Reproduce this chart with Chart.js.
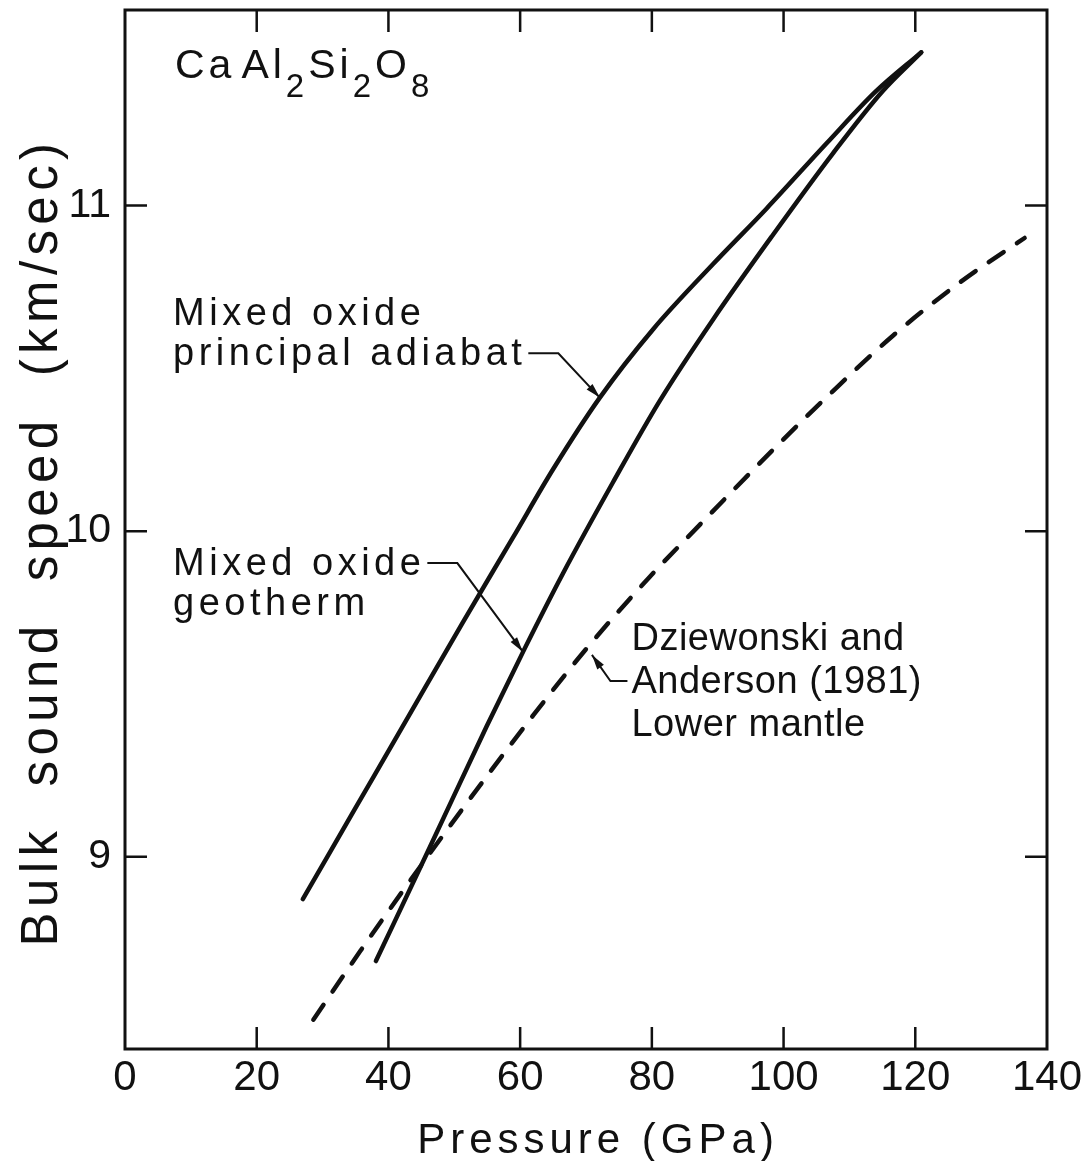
<!DOCTYPE html>
<html>
<head>
<meta charset="utf-8">
<script src="https://cdn.jsdelivr.net/npm/chart.js@4.4.1/dist/chart.umd.min.js"></script>
<style>
  html, body { margin: 0; padding: 0; background: #fff; }
  #wrap { width: 1083px; height: 1161px; }
</style>
</head>
<body>
<div id="wrap"><canvas id="sound" width="1083" height="1161"></canvas></div>
<script>
// Bulk sound speed (km/sec) vs pressure (GPa), CaAl2Si2O8

// mixed oxide principal adiabat
const adiabatP = [27.0, 35.0, 43.0, 51.3, 58.9, 65.0, 72.1, 80.2, 89.3, 97.4, 106.5, 114.0, 120.9];
const adiabatV = [8.87, 9.15, 9.43, 9.72, 9.98, 10.19, 10.41, 10.62, 10.82, 10.99, 11.19, 11.35, 11.47];

// mixed oxide geotherm
const geothermP = [38.1, 46.3, 54.9, 60.7, 66.5, 74.1, 81.2, 89.3, 98.4, 107.5, 115.0, 120.9];
const geothermV = [8.68, 9.03, 9.40, 9.64, 9.87, 10.15, 10.40, 10.65, 10.91, 11.16, 11.35, 11.47];

// Dziewonski and Anderson (1981), lower mantle
const mantleP = [28.6, 35.7, 42.7, 48.8, 55.4, 62.0, 70.1, 79.7, 87.3, 98.9, 107.5, 116.6, 127.2, 136.6];
const mantleV = [8.50, 8.71, 8.91, 9.08, 9.26, 9.435, 9.64, 9.86, 10.02, 10.26, 10.43, 10.60, 10.77, 10.90];

const xTicks = [0, 20, 40, 60, 80, 100, 120, 140];
const yTicks = [9, 10, 11];

const FONT = '"Liberation Sans", Arial, sans-serif';
const INK = '#111';

const pts = (xs, ys) => xs.map((x, i) => ({ x, y: ys[i] }));

// curve labels; text anchor and arrow tip in data units
const notes = [
  { lines: ['Mixed oxide', 'principal adiabat'], at: { x: 7.3, y: 10.632 }, gap: 40, spacing: 4.5, from: 1, side: 'right', tip: { x: 72.1, y: 10.41 } },
  { lines: ['Mixed oxide', 'geotherm'], at: { x: 7.3, y: 9.865 }, gap: 40, spacing: 4.5, from: 0, side: 'right', tip: { x: 60.4, y: 9.63 } },
  { lines: ['Dziewonski and', 'Anderson (1981)', 'Lower mantle'], at: { x: 76.9, y: 9.635 }, gap: 43, spacing: 0.5, from: 1, side: 'left', tip: { x: 70.9, y: 9.62 } }
];

function arrowHead(ctx, fx, fy, tx, ty) {
  const a = Math.atan2(ty - fy, tx - fx);
  const len = 15, hw = 4;
  ctx.beginPath();
  ctx.moveTo(tx, ty);
  ctx.lineTo(tx - len * Math.cos(a) + hw * Math.sin(a), ty - len * Math.sin(a) - hw * Math.cos(a));
  ctx.lineTo(tx - len * Math.cos(a) - hw * Math.sin(a), ty - len * Math.sin(a) + hw * Math.cos(a));
  ctx.closePath();
  ctx.fill();
}

// box frame with inward ticks on all four sides
const frameTicks = {
  id: 'frameTicks',
  afterDatasetsDraw(chart) {
    const { ctx, chartArea: a, scales: { x, y } } = chart;
    const tl = 22;
    ctx.save();
    ctx.strokeStyle = INK;
    ctx.lineWidth = 3;
    ctx.strokeRect(a.left, a.top, a.right - a.left, a.bottom - a.top);
    ctx.lineWidth = 2.5;
    ctx.beginPath();
    xTicks.slice(1, -1).forEach(v => {
      const px = x.getPixelForValue(v);
      ctx.moveTo(px, a.bottom); ctx.lineTo(px, a.bottom - tl);
      ctx.moveTo(px, a.top); ctx.lineTo(px, a.top + tl);
    });
    yTicks.forEach(v => {
      const py = y.getPixelForValue(v);
      ctx.moveTo(a.left, py); ctx.lineTo(a.left + tl, py);
      ctx.moveTo(a.right, py); ctx.lineTo(a.right - tl, py);
    });
    ctx.stroke();
    ctx.restore();
  }
};

// formula, axis titles and curve labels
const textLayer = {
  id: 'textLayer',
  afterDraw(chart) {
    const { ctx, chartArea: a, scales: { x, y } } = chart;
    ctx.save();
    ctx.fillStyle = INK;
    ctx.strokeStyle = INK;
    ctx.textBaseline = 'alphabetic';

    // CaAl2Si2O8 with subscripts
    const parts = [['Ca', 0], ['Al', 0], ['2', 1], ['Si', 0], ['2', 1], ['O', 0], ['8', 1]];
    let cx = a.left + 50;
    const base = a.top + 68;
    ctx.letterSpacing = '4px';
    parts.forEach(([t, sub]) => {
      ctx.font = sub ? `33px ${FONT}` : `41px ${FONT}`;
      ctx.fillText(t, cx, base + (sub ? 19 : 0));
      cx += ctx.measureText(t).width + (t === 'Ca' ? 6 : 0);
    });

    // x axis title
    ctx.font = `42px ${FONT}`;
    ctx.letterSpacing = '5px';
    ctx.textAlign = 'center';
    ctx.fillText('Pressure (GPa)', (a.left + a.right) / 2 + 12, 1153);

    // y axis title
    ctx.save();
    ctx.font = `51px ${FONT}`;
    ctx.letterSpacing = '5.4px';
    ctx.translate(57, 542);
    ctx.rotate(-Math.PI / 2);
    ctx.fillText('Bulk  sound  speed  (km/sec)', 0, 0);
    ctx.restore();

    // curve labels with leaders
    ctx.textAlign = 'left';
    ctx.font = `38px ${FONT}`;
    notes.forEach(n => {
      ctx.letterSpacing = n.spacing + 'px';
      const px = x.getPixelForValue(n.at.x);
      const py = y.getPixelForValue(n.at.y);
      n.lines.forEach((t, i) => ctx.fillText(t, px, py + i * n.gap));
      const ly = py + n.from * n.gap - 12;
      let sx, bx;
      if (n.side === 'right') {
        sx = px + ctx.measureText(n.lines[n.from]).width + 2;
        bx = sx + 30;
      } else {
        sx = px - 4;
        bx = sx - 17;
      }
      const tx = x.getPixelForValue(n.tip.x);
      const ty = y.getPixelForValue(n.tip.y);
      ctx.lineWidth = 2;
      ctx.beginPath();
      ctx.moveTo(sx, ly);
      ctx.lineTo(bx, ly);
      ctx.lineTo(tx, ty);
      ctx.stroke();
      arrowHead(ctx, bx, ly, tx, ty);
    });
    ctx.restore();
  }
};

const lineStyle = {
  borderColor: INK,
  borderWidth: 4.5,
  pointRadius: 0,
  fill: false,
  cubicInterpolationMode: 'monotone',
  borderCapStyle: 'round'
};

new Chart(document.getElementById('sound'), {
  type: 'line',
  data: {
    datasets: [
      { label: 'Mixed oxide principal adiabat', data: pts(adiabatP, adiabatV), ...lineStyle },
      { label: 'Mixed oxide geotherm', data: pts(geothermP, geothermV), ...lineStyle },
      { label: 'Dziewonski and Anderson (1981) Lower mantle', data: pts(mantleP, mantleV), ...lineStyle, borderDash: [18, 16] }
    ]
  },
  options: {
    responsive: false,
    animation: false,
    layout: { padding: { top: 10, right: 36, left: 0, bottom: 0 } },
    plugins: { legend: { display: false }, tooltip: { enabled: false } },
    scales: {
      x: {
        type: 'linear',
        min: 0, max: 140,
        afterBuildTicks: s => { s.ticks = xTicks.map(v => ({ value: v })); },
        afterFit: s => { s.height = 112; s.paddingLeft = 0; s.paddingRight = 0; },
        grid: { display: false, drawTicks: false },
        border: { display: false },
        ticks: { color: INK, padding: 4, maxRotation: 0, font: { family: FONT, size: 42 } }
      },
      y: {
        type: 'linear',
        min: 8.41, max: 11.6,
        afterBuildTicks: s => { s.ticks = yTicks.map(v => ({ value: v })); },
        afterFit: s => { s.width = 125; s.paddingTop = 0; s.paddingBottom = 0; },
        grid: { display: false, drawTicks: false },
        border: { display: false },
        ticks: { color: INK, padding: 14, font: { family: FONT, size: 41 } }
      }
    }
  },
  plugins: [frameTicks, textLayer]
});
</script>
</body>
</html>
